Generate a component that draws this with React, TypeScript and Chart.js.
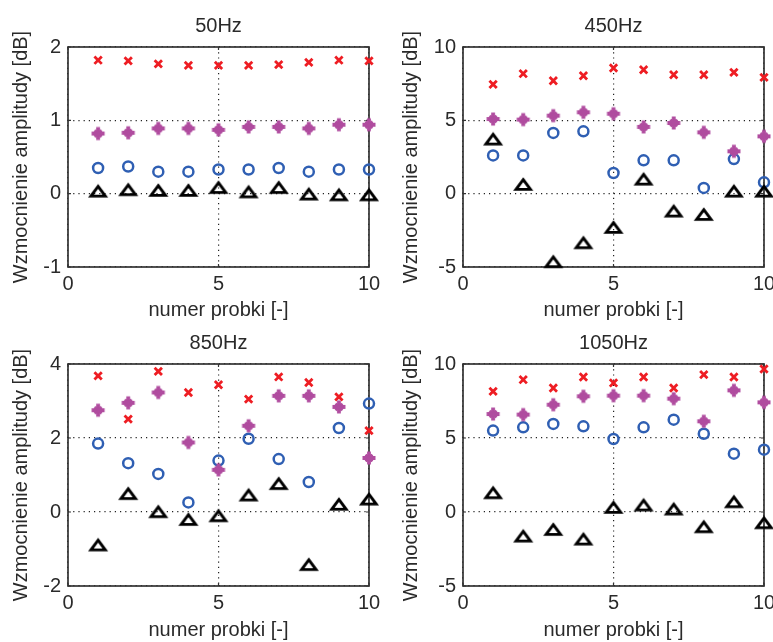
import React, { useEffect, useRef } from 'react';
import { Chart, registerables } from 'chart.js';

Chart.register(...registerables);

// ---------- data ----------
const samples = [1, 2, 3, 4, 5, 6, 7, 8, 9, 10];
const xTickValues = [0, 5, 10];
const panelTitles = ['50Hz', '450Hz', '850Hz', '1050Hz'];
const xAxisLabel = 'numer probki [-]';
const yAxisLabel = 'Wzmocnienie amplitudy [dB]';

const red50 = [1.82, 1.81, 1.77, 1.75, 1.75, 1.75, 1.76, 1.79, 1.82, 1.81];
const purple50 = [0.82, 0.83, 0.89, 0.89, 0.87, 0.91, 0.91, 0.89, 0.94, 0.94];
const blue50 = [0.35, 0.37, 0.30, 0.30, 0.33, 0.33, 0.35, 0.30, 0.33, 0.33];
const black50 = [0.04, 0.06, 0.05, 0.05, 0.09, 0.03, 0.09, 0.0, -0.01, -0.01];

const red450 = [7.45, 8.18, 7.7, 8.04, 8.57, 8.45, 8.11, 8.11, 8.27, 7.93];
const purple450 = [5.09, 5.05, 5.32, 5.55, 5.45, 4.55, 4.82, 4.18, 2.89, 3.91];
const blue450 = [2.61, 2.61, 4.14, 4.25, 1.41, 2.27, 2.27, 0.39, 2.36, 0.77];
const black450 = [3.75, 0.66, -4.61, -3.32, -2.27, 1.02, -1.16, -1.39, 0.2, 0.2];

const red850 = [3.68, 2.51, 3.80, 3.23, 3.44, 3.05, 3.65, 3.50, 3.11, 2.20];
const purple850 = [2.75, 2.95, 3.23, 1.88, 1.14, 2.33, 3.14, 3.14, 2.84, 1.46];
const blue850 = [1.85, 1.32, 1.03, 0.26, 1.39, 1.98, 1.43, 0.81, 2.27, 2.93];
const black850 = [-0.88, 0.51, 0.02, -0.19, -0.09, 0.47, 0.78, -1.41, 0.22, 0.36];

const red1050 = [8.15, 8.94, 8.38, 9.12, 8.72, 9.12, 8.38, 9.28, 9.12, 9.66];
const purple1050 = [6.62, 6.58, 7.25, 7.82, 7.86, 7.86, 7.66, 6.13, 8.22, 7.41];
const blue1050 = [5.5, 5.72, 5.95, 5.79, 4.93, 5.72, 6.24, 5.29, 3.94, 4.21];
const black1050 = [1.33, -1.6, -1.15, -1.8, 0.34, 0.5, 0.23, -0.97, 0.72, -0.7];

const yMins = [-1, -5, -2, -5];
const yMaxs = [2, 10, 4, 10];
const ySteps = [1, 5, 2, 5];

// ---------- layout / style ----------
const FONT_FAMILY = '"Liberation Sans", Arial, sans-serif';
const FONT_SIZE = 20;
const TEXT_COLOR = '#2a2a2a';
const RED = '#ee1d23';
const PURPLE = '#b04c9f';
const BLUE = '#2f5fb3';

const panels = [
  { left: 0, top: 0, w: 390, h: 321, padTop: 47, xAxisH: 54, xTitlePad: 1, yTitlePad: 11, red: red50, purple: purple50, blue: blue50, black: black50 },
  { left: 395, top: 0, w: 390, h: 321, padTop: 47, xAxisH: 54, xTitlePad: 1, yTitlePad: 6, red: red450, purple: purple450, blue: blue450, black: black450 },
  { left: 0, top: 321, w: 390, h: 321, padTop: 43, xAxisH: 56, xTitlePad: 2, yTitlePad: 11, red: red850, purple: purple850, blue: blue850, black: black850 },
  { left: 395, top: 321, w: 390, h: 321, padTop: 43, xAxisH: 56, xTitlePad: 2, yTitlePad: 6, red: red1050, purple: purple1050, blue: blue1050, black: black1050 },
];

function makeTriangle(): HTMLCanvasElement {
  const c = document.createElement('canvas');
  c.width = 22;
  c.height = 18;
  const g = c.getContext('2d') as CanvasRenderingContext2D;
  g.strokeStyle = '#000';
  g.lineWidth = 2.9;
  g.lineJoin = 'miter';
  g.beginPath();
  g.moveTo(11, 4.6);
  g.lineTo(18.2, 14.4);
  g.lineTo(3.8, 14.4);
  g.closePath();
  g.stroke();
  return c;
}

function makePlus(): HTMLCanvasElement {
  const c = document.createElement('canvas');
  c.width = 16;
  c.height = 16;
  const g = c.getContext('2d') as CanvasRenderingContext2D;
  g.strokeStyle = PURPLE;
  g.lineCap = 'butt';
  g.lineWidth = 3.8;
  g.beginPath();
  g.moveTo(8, 1.5); g.lineTo(8, 14.5);
  g.moveTo(1.5, 8); g.lineTo(14.5, 8);
  g.stroke();
  g.lineWidth = 2.6;
  g.beginPath();
  g.moveTo(4.6, 4.6); g.lineTo(11.4, 11.4);
  g.moveTo(11.4, 4.6); g.lineTo(4.6, 11.4);
  g.stroke();
  return c;
}

const framePlugin = {
  id: 'frame',
  beforeDatasetsDraw(chart: any) {
    const { ctx, chartArea: a, scales } = chart;
    ctx.save();
    ctx.setLineDash([]);
    ctx.strokeStyle = '#333';
    ctx.lineWidth = 1.7;
    ctx.strokeRect(a.left, a.top, a.right - a.left, a.bottom - a.top);
    ctx.lineWidth = 1.2;
    ctx.beginPath();
    const tl = 3;
    for (const t of scales.x.ticks) {
      const px = scales.x.getPixelForValue(t.value);
      ctx.moveTo(px, a.bottom); ctx.lineTo(px, a.bottom - tl);
      ctx.moveTo(px, a.top); ctx.lineTo(px, a.top + tl);
    }
    for (const t of scales.y.ticks) {
      const py = scales.y.getPixelForValue(t.value);
      ctx.moveTo(a.left, py); ctx.lineTo(a.left + tl, py);
      ctx.moveTo(a.right, py); ctx.lineTo(a.right - tl, py);
    }
    ctx.stroke();
    ctx.restore();
  },
  afterDraw(chart: any, _args: any, opts: any) {
    const { ctx, chartArea: a } = chart;
    ctx.save();
    ctx.font = `${FONT_SIZE}px ${FONT_FAMILY}`;
    ctx.fillStyle = TEXT_COLOR;
    ctx.textAlign = 'center';
    ctx.textBaseline = 'alphabetic';
    ctx.fillText(opts.title, (a.left + a.right) / 2, a.top - 15.5);
    ctx.restore();
  },
};

function Panel({ index }: { index: number }) {
  const ref = useRef<HTMLCanvasElement | null>(null);
  const p = panels[index];
  useEffect(() => {
    const tri = makeTriangle();
    const plus = makePlus();
    const pts = (arr: number[]) => samples.map((x, i) => ({ x, y: arr[i] }));
    const font = { family: FONT_FAMILY, size: FONT_SIZE, lineHeight: 1 };
    const chart = new Chart(ref.current as HTMLCanvasElement, {
      type: 'scatter',
      data: {
        datasets: [
          { data: pts(p.black), pointStyle: tri as any, pointRadius: 9, borderColor: '#000', backgroundColor: 'transparent', clip: false as any },
          { data: pts(p.purple), pointStyle: plus as any, pointRadius: 7, borderColor: PURPLE, backgroundColor: PURPLE, clip: false as any },
          { data: pts(p.blue), pointStyle: 'circle', pointRadius: 5, borderWidth: 2.5, borderColor: BLUE, backgroundColor: 'transparent', clip: false as any },
          { data: pts(p.red), pointStyle: 'crossRot', pointRadius: 5.2, borderWidth: 2.8, borderColor: RED, backgroundColor: RED, clip: false as any },
        ],
      },
      options: {
        animation: false,
        responsive: false,
        devicePixelRatio: 1,
        events: [],
        layout: { padding: { top: p.padTop, right: 21, bottom: 0, left: 0 } },
        plugins: {
          legend: { display: false },
          tooltip: { enabled: false },
          title: { display: false },
          frame: { title: panelTitles[index] },
        } as any,
        scales: {
          x: {
            type: 'linear',
            min: xTickValues[0],
            max: xTickValues[xTickValues.length - 1],
            afterBuildTicks: (s: any) => { s.ticks = xTickValues.map((v) => ({ value: v })); },
            ticks: { font, color: TEXT_COLOR, padding: 7, maxRotation: 0 },
            grid: { color: '#222', lineWidth: 1.2, drawTicks: false },
            border: { display: false, dash: [1.2, 4] },
            title: { display: true, text: xAxisLabel, font, color: TEXT_COLOR, padding: { top: 0, bottom: p.xTitlePad } },
            afterFit: (s: any) => { s.height = p.xAxisH; },
          },
          y: {
            type: 'linear',
            min: yMins[index],
            max: yMaxs[index],
            ticks: { stepSize: ySteps[index], font, color: TEXT_COLOR, padding: 7 },
            grid: { color: '#222', lineWidth: 1.2, drawTicks: false },
            border: { display: false, dash: [1.2, 4] },
            title: { display: true, text: yAxisLabel, font, color: TEXT_COLOR, padding: { top: p.yTitlePad, bottom: 0 } },
            afterFit: (s: any) => { s.width = 68; },
          },
        },
      },
      plugins: [framePlugin],
    } as any);
    return () => chart.destroy();
  }, [index]);
  return (
    <canvas
      ref={ref}
      width={p.w}
      height={p.h}
      style={{ position: 'absolute', left: p.left, top: p.top, width: p.w, height: p.h }}
    />
  );
}

export default function App() {
  return (
    <div
      style={{
        position: 'fixed',
        left: 0,
        top: 0,
        width: 773,
        height: 642,
        overflow: 'hidden',
        background: '#fff',
      }}
    >
      {panels.map((_, i) => (
        <Panel key={i} index={i} />
      ))}
    </div>
  );
}
